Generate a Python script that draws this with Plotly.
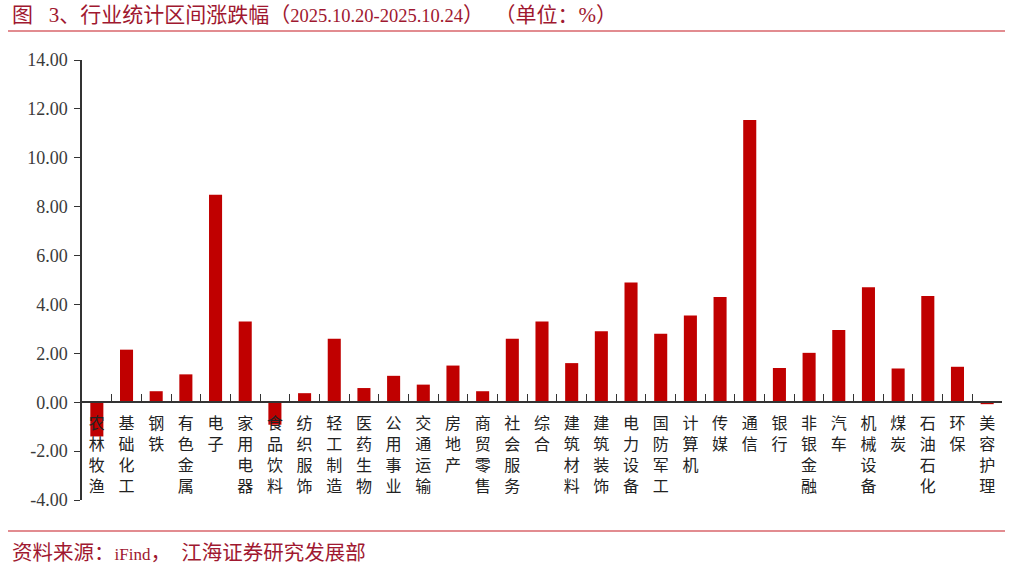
import plotly.graph_objects as go

categories = ["农林牧渔", "基础化工", "钢铁", "有色金属", "电子", "家用电器", "食品饮料", "纺织服饰",
              "轻工制造", "医药生物", "公用事业", "交通运输", "房地产", "商贸零售", "社会服务", "综合",
              "建筑材料", "建筑装饰", "电力设备", "国防军工", "计算机", "传媒", "通信", "银行",
              "非银金融", "汽车", "机械设备", "煤炭", "石油石化", "环保", "美容护理"]
values = [-1.40, 2.15, 0.45, 1.14, 8.49, 3.30, -0.92, 0.37,
          2.60, 0.58, 1.08, 0.72, 1.50, 0.45, 2.60, 3.30,
          1.60, 2.90, 4.90, 2.80, 3.55, 4.30, 11.55, 1.40,
          2.02, 2.95, 4.70, 1.38, 4.35, 1.45, -0.08]
y_ticks = [-4, -2, 0, 2, 4, 6, 8, 10, 12, 14]
y_tick_labels = ["-4.00", "-2.00", "0.00", "2.00", "4.00", "6.00", "8.00", "10.00", "12.00", "14.00"]
title_parts = ["图\u2002 3、行业统计区间涨跌幅（", "2025.10.20-2025.10.24", "）\u2002（单位：%）"]
source_parts = ["资料来源：", "iFind", "，\u2002江海证券研究发展部"]

W, H = 1013, 569
L, R, T, B = 82, 11, 60, 69
PW, PH = W - L - R, H - T - B

def px_x(x):
    return (x - L) / PW

def px_y(y):
    return (H - B - y) / PH

ymin, ymax = -4, 14
serif = "Liberation Serif, Noto Sans CJK SC, serif"
red_dark = "#A01830"
red_line = "#D9666B"

vert_labels = ["<br>".join(list(c)) for c in categories]

def mixed(parts, cjk_size, latin_size):
    out = []
    for i, p in enumerate(parts):
        size = latin_size if i == 1 else cjk_size
        out.append(f'<span style="font-size:{size}px">{p}</span>')
    return "".join(out)

fig = go.Figure()
fig.add_trace(go.Bar(
    x=categories, y=values, marker_color="#C00000", width=0.44,
    marker_line_width=0,
))

fig.update_layout(
    width=W, height=H,
    margin=dict(l=L, r=R, t=T, b=B),
    paper_bgcolor="white", plot_bgcolor="white",
    showlegend=False,
    xaxis=dict(
        tickmode="array", tickvals=categories, ticktext=vert_labels,
        tickangle=0, tickson="boundaries", ticks="inside", ticklen=7,
        tickcolor="#333", tickwidth=1.2,
        showline=True, linecolor="#333", linewidth=1.5,
        anchor="free", position=(0 - ymin) / (ymax - ymin),
        showgrid=False, zeroline=False,
        ticklabelstandoff=7,
        tickfont=dict(family="Noto Sans CJK SC, sans-serif", size=16, color="#222"),
        range=[-0.5, len(categories) - 0.5],
    ),
    yaxis=dict(
        range=[ymin, ymax], tickmode="array", tickvals=y_ticks, ticktext=y_tick_labels,
        ticks="outside", ticklen=6, tickcolor="#333", tickwidth=1.2,
        showline=True, linecolor="#333", linewidth=1.5,
        showgrid=False, zeroline=False,
        ticklabelstandoff=3,
        tickfont=dict(family=serif, size=18, color="#3a3a3a"),
    ),
    font=dict(family=serif),
)

fig.add_annotation(
    xref="paper", yref="paper", x=px_x(10), y=px_y(15),
    xanchor="left", yanchor="middle", showarrow=False,
    text=mixed(title_parts, 21, 18.5), font=dict(family=serif, size=21, color=red_dark),
)
fig.add_annotation(
    xref="paper", yref="paper", x=px_x(10), y=px_y(553),
    xanchor="left", yanchor="middle", showarrow=False,
    text=mixed(source_parts, 20.5, 17), font=dict(family=serif, size=20.5, color=red_dark),
)
for yline in (31, 531):
    fig.add_shape(
        type="line", xref="paper", yref="paper",
        x0=px_x(8), x1=px_x(1005), y0=px_y(yline), y1=px_y(yline),
        line=dict(color=red_line, width=1.5),
    )

fig.write_html("out.html")
